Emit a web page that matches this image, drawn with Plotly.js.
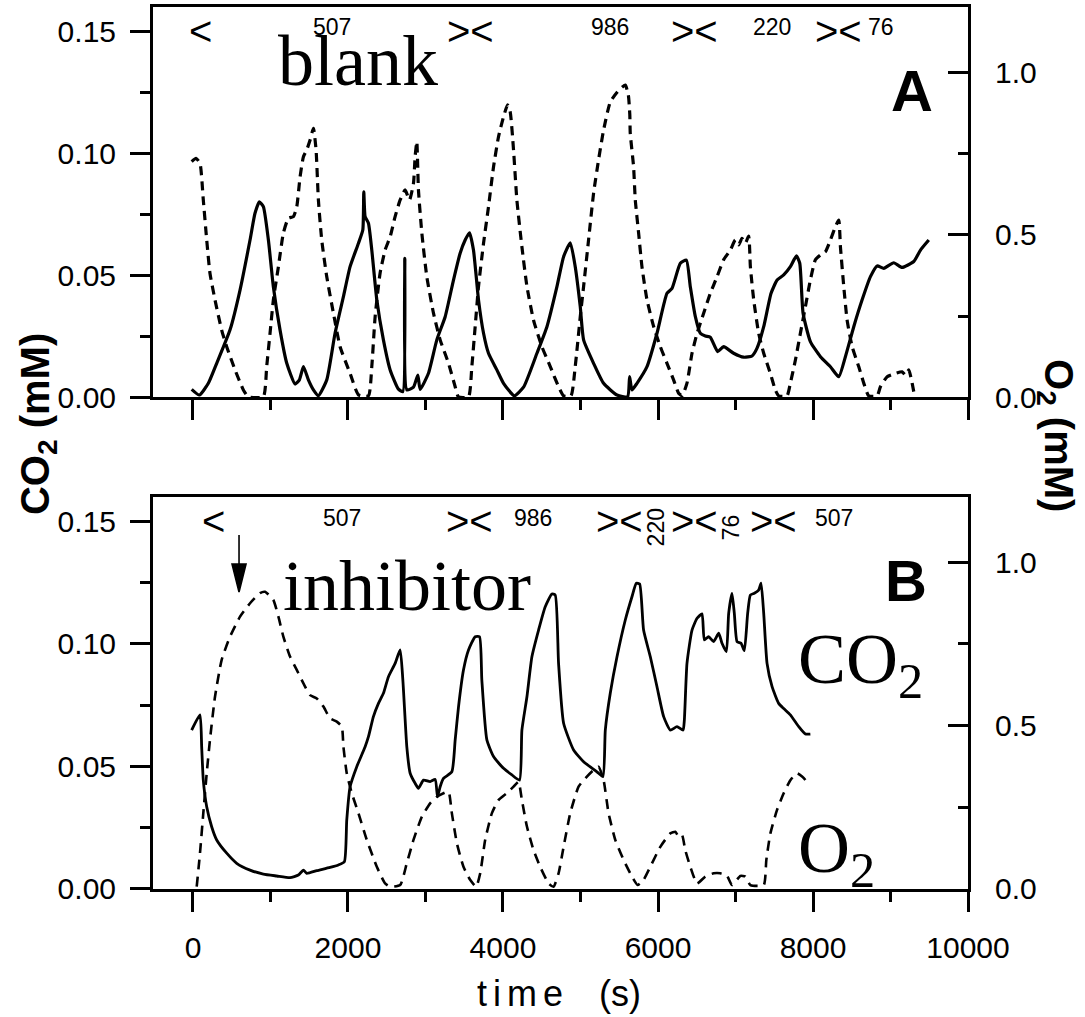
<!DOCTYPE html>
<html>
<head>
<meta charset="utf-8">
<script src="https://cdn.plot.ly/plotly-3.0.1.min.js"></script>
<style>
  html, body { margin: 0; padding: 0; background: #ffffff; }
  #chart { width: 1085px; height: 1017px; }
</style>
</head>
<body>
<div id="chart"></div>
<script>
// ---------- Panel A (blank): CO2 (mM, left axis) ----------
const timeA_CO2 = [
  -17, 82, 198, 306, 478, 607, 736, 800, 856, 908,
  973, 1037, 1123, 1210, 1317, 1373, 1425, 1489, 1554, 1618,
  1726, 1833, 1941, 2027, 2135, 2191, 2204, 2221, 2264, 2307,
  2372, 2457, 2544, 2651, 2708, 2733, 2759, 2845, 2901, 2931,
  3038, 3146, 3254, 3361, 3447, 3512, 3568, 3619, 3684, 3749,
  3813, 3921, 4007, 4145, 4265, 4438, 4567, 4696, 4782, 4868,
  4932, 4997, 5040, 5169, 5298, 5471, 5608, 5634, 5664, 5729,
  5858, 5987, 6116, 6181, 6288, 6366, 6417, 6482, 6546, 6611,
  6675, 6770, 6847, 6976, 7105, 7214, 7278, 7364, 7459, 7537,
  7622, 7708, 7786, 7829, 7872, 7966, 8096, 8225, 8332, 8418,
  8526, 8634, 8741, 8828, 8913, 9042, 9150, 9300, 9387, 9494
];
const co2A = [
  0.0033, 0.0010, 0.0058, 0.0140, 0.0277, 0.0440, 0.0645, 0.0755, 0.0802, 0.0782,
  0.0645, 0.0454, 0.0277, 0.0140, 0.0055, 0.0072, 0.0126, 0.0072, 0.0031, 0.0007,
  0.0072, 0.0263, 0.0413, 0.0536, 0.0632, 0.0686, 0.0843, 0.0741, 0.0714, 0.0604,
  0.0400, 0.0236, 0.0113, 0.0034, 0.0024, 0.0570, 0.0031, 0.0042, 0.0092, 0.0033,
  0.0099, 0.0236, 0.0331, 0.0481, 0.0591, 0.0645, 0.0675, 0.0604, 0.0400, 0.0263,
  0.0181, 0.0113, 0.0058, 0.0007, 0.0042, 0.0181, 0.0290, 0.0454, 0.0577, 0.0634,
  0.0536, 0.0372, 0.0236, 0.0140, 0.0058, 0.0010, 0.0003, 0.0085, 0.0031, 0.0058,
  0.0126, 0.0263, 0.0427, 0.0447, 0.0550, 0.0563, 0.0454, 0.0331, 0.0263, 0.0252,
  0.0247, 0.0188, 0.0208, 0.0181, 0.0165, 0.0170, 0.0202, 0.0290, 0.0427, 0.0481,
  0.0502, 0.0536, 0.0580, 0.0550, 0.0345, 0.0229, 0.0167, 0.0126, 0.0085, 0.0167,
  0.0290, 0.0400, 0.0495, 0.0539, 0.0529, 0.0552, 0.0533, 0.0557, 0.0604, 0.0645
];

// ---------- Panel A (blank): O2 (mM, right axis) ----------
const timeA_O2 = [
  -17, 39, 90, 133, 177, 219, 284, 370, 435, 542,
  650, 714, 908, 951, 994, 1037, 1102, 1166, 1231, 1296,
  1339, 1382, 1425, 1468, 1511, 1554, 1588, 1618, 1661, 1726,
  1812, 1898, 2027, 2135, 2264, 2307, 2350, 2414, 2479, 2544,
  2608, 2673, 2737, 2793, 2845, 2866, 2888, 2909, 2953, 3017,
  3103, 3189, 3297, 3383, 3425, 3555, 3598, 3641, 3684, 3749,
  3813, 3878, 3942, 4007, 4059, 4093, 4136, 4179, 4244, 4309,
  4394, 4502, 4610, 4717, 4782, 4877, 4932, 4997, 5040, 5104,
  5169, 5233, 5298, 5384, 5475, 5539, 5578, 5617, 5636, 5642,
  5685, 5707, 5750, 5793, 5858, 5944, 6030, 6116, 6201, 6266,
  6310, 6374, 6439, 6504, 6589, 6675, 6762, 6847, 6934, 6998,
  7041, 7084, 7127, 7170, 7192, 7235, 7299, 7364, 7450, 7514,
  7557, 7665, 7708, 7773, 7837, 7902, 7966, 8031, 8096, 8160,
  8225, 8289, 8332, 8354, 8397, 8440, 8505, 8590, 8655, 8719,
  8828, 8870, 8957, 9064, 9150, 9193, 9236, 9279, 9300
];
const o2A = [
  0.725, 0.735, 0.720, 0.607, 0.484, 0.382, 0.300, 0.207, 0.156, 0.085,
  0.023, 0.002, 0.002, 0.095, 0.197, 0.300, 0.402, 0.505, 0.551, 0.556,
  0.586, 0.679, 0.740, 0.761, 0.791, 0.827, 0.761, 0.607, 0.484, 0.371,
  0.259, 0.156, 0.074, 0.008, 0.005, 0.095, 0.248, 0.382, 0.453, 0.494,
  0.556, 0.607, 0.638, 0.607, 0.658, 0.740, 0.786, 0.638, 0.505, 0.371,
  0.259, 0.177, 0.105, 0.033, 0.002, 0.002, 0.095, 0.218, 0.341, 0.474,
  0.586, 0.709, 0.801, 0.863, 0.899, 0.878, 0.761, 0.607, 0.463, 0.341,
  0.238, 0.156, 0.095, 0.033, 0.005, 0.005, 0.095, 0.248, 0.341, 0.484,
  0.628, 0.730, 0.822, 0.908, 0.939, 0.954, 0.960, 0.930, 0.870, 0.812,
  0.709, 0.607, 0.505, 0.402, 0.300, 0.218, 0.156, 0.105, 0.054, 0.013,
  0.005, 0.044, 0.136, 0.197, 0.259, 0.320, 0.371, 0.423, 0.453, 0.484,
  0.469, 0.489, 0.474, 0.496, 0.402, 0.300, 0.197, 0.136, 0.074, 0.023,
  0.005, 0.005, 0.044, 0.115, 0.197, 0.279, 0.361, 0.423, 0.438, 0.448,
  0.484, 0.525, 0.545, 0.463, 0.341, 0.238, 0.156, 0.095, 0.044, 0.005,
  0.005, 0.033, 0.064, 0.074, 0.079, 0.069, 0.085, 0.044, 0.018
];

// ---------- Panel B (inhibitor): CO2 (mM, left axis) ----------
const timeB_CO2 = [
  -17, 90, 112, 133, 177, 241, 306, 435, 564, 736,
  908, 1081, 1252, 1360, 1425, 1468, 1597, 1769, 1876, 1953,
  1984, 2027, 2113, 2221, 2264, 2328, 2393, 2457, 2522, 2608,
  2673, 2708, 2759, 2802, 2866, 2909, 2974, 3060, 3125, 3155,
  3189, 3232, 3340, 3383, 3426, 3490, 3555, 3641, 3697, 3727,
  3792, 3878, 4007, 4115, 4213, 4244, 4309, 4373, 4459, 4545,
  4631, 4674, 4717, 4782, 4911, 5040, 5212, 5289, 5320, 5384,
  5471, 5578, 5664, 5720, 5763, 5814, 5901, 5987, 6073, 6159,
  6245, 6323, 6340, 6374, 6439, 6504, 6568, 6598, 6653, 6718,
  6783, 6826, 6882, 6912, 6955, 6985, 7020, 7072, 7114, 7157,
  7192, 7243, 7299, 7330, 7364, 7407, 7472, 7557, 7622, 7708,
  7816, 7902, 7966
];
const co2B = [
  0.0648, 0.0710, 0.0580, 0.0444, 0.0335, 0.0254, 0.0200, 0.0146, 0.0105, 0.0077,
  0.0061, 0.0053, 0.0046, 0.0057, 0.0077, 0.0064, 0.0075, 0.0088, 0.0098, 0.0111,
  0.0281, 0.0417, 0.0499, 0.0580, 0.0621, 0.0703, 0.0757, 0.0798, 0.0866, 0.0920,
  0.0975, 0.0852, 0.0580, 0.0472, 0.0431, 0.0411, 0.0444, 0.0438, 0.0447, 0.0376,
  0.0417, 0.0451, 0.0478, 0.0608, 0.0743, 0.0893, 0.0975, 0.1029, 0.1029, 0.0852,
  0.0608, 0.0540, 0.0492, 0.0465, 0.0444, 0.0648, 0.0784, 0.0947, 0.1056, 0.1151,
  0.1203, 0.1199, 0.0920, 0.0676, 0.0567, 0.0519, 0.0478, 0.0458, 0.0648, 0.0798,
  0.0947, 0.1097, 0.1192, 0.1247, 0.1244, 0.1056, 0.0947, 0.0825, 0.0703, 0.0648,
  0.0662, 0.0648, 0.0689, 0.0920, 0.1056, 0.1104, 0.1122, 0.1016, 0.1029, 0.1009,
  0.1043, 0.1002, 0.0968, 0.1124, 0.1206, 0.1124, 0.1009, 0.1002, 0.0972, 0.1124,
  0.1199, 0.1206, 0.1219, 0.1247, 0.1124, 0.0920, 0.0825, 0.0757, 0.0736, 0.0710,
  0.0662, 0.0632, 0.0632
];

// ---------- Panel B (inhibitor): O2 (mM, right axis) ----------
const timeB_O2 = [
  48, 90, 133, 177, 219, 284, 370, 478, 607, 736,
  865, 930, 1037, 1102, 1166, 1252, 1339, 1425, 1511, 1597,
  1683, 1769, 1855, 1920, 1941, 1984, 2049, 2135, 2243, 2372,
  2479, 2544, 2673, 2759, 2845, 2953, 3060, 3146, 3232, 3297,
  3340, 3405, 3490, 3576, 3654, 3706, 3770, 3857, 3942, 4050,
  4136, 4200, 4244, 4309, 4394, 4480, 4588, 4652, 4717, 4782,
  4868, 4975, 5083, 5169, 5233, 5298, 5362, 5449, 5556, 5664,
  5737, 5814, 5901, 6030, 6159, 6224, 6266, 6310, 6352, 6417,
  6504, 6611, 6718, 6804, 6891, 6955, 7063, 7127, 7192, 7364,
  7398, 7450, 7536, 7622, 7708, 7794, 7859, 7902, 7923
];
const o2B = [
  0.007, 0.109, 0.232, 0.354, 0.456, 0.588, 0.701, 0.772, 0.833, 0.874,
  0.905, 0.909, 0.884, 0.833, 0.772, 0.711, 0.670, 0.629, 0.593, 0.583,
  0.558, 0.522, 0.512, 0.497, 0.435, 0.354, 0.293, 0.232, 0.150, 0.068,
  0.017, 0.007, 0.012, 0.079, 0.150, 0.221, 0.262, 0.282, 0.293, 0.298,
  0.232, 0.140, 0.068, 0.028, 0.007, 0.048, 0.150, 0.232, 0.272, 0.293,
  0.313, 0.328, 0.272, 0.191, 0.119, 0.068, 0.017, 0.007, 0.048, 0.129,
  0.232, 0.313, 0.344, 0.364, 0.374, 0.333, 0.232, 0.150, 0.089, 0.038,
  0.012, 0.028, 0.068, 0.129, 0.170, 0.175, 0.160, 0.165, 0.119, 0.068,
  0.017, 0.038, 0.048, 0.048, 0.040, 0.012, 0.040, 0.038, 0.012, 0.012,
  0.089, 0.170, 0.242, 0.293, 0.333, 0.354, 0.344, 0.333, 0.323
];

// ---------- Gas-switch marks (time of mark, label) ----------
const marksA_time = [103, 1795, 3577, 5384, 6469, 7476, 8328, 8883];
const marksA_text = ['&lt;', '507', '&gt;&lt;', '986', '&gt;&lt;', '220', '&gt;&lt;', '76'];
const marksB_time = [271, 1924, 3564, 4390, 5500, 5978, 6469, 6946, 7489, 8276];
const marksB_text = ['&lt;', '507', '&gt;&lt;', '986', '&gt;&lt;', '220', '&gt;&lt;', '76', '&gt;&lt;', '507'];
const marksB_rotated = [false, false, false, false, false, true, false, true, false, false];

// inhibitor injection time (arrow)
const injectionTime = 594;

// ---------- Styling ----------
const SANS = 'Liberation Sans, Arial, sans-serif';
const SERIF = 'Liberation Serif, Times New Roman, serif';
const BLACK = '#000000';

const traces = [
  { x: timeA_CO2, y: co2A, xaxis: 'x2', yaxis: 'y3', type: 'scatter', mode: 'lines',
    line: { color: BLACK, width: 3.2, shape: 'spline', smoothing: 0.5 }, hoverinfo: 'skip' },
  { x: timeA_O2, y: o2A, xaxis: 'x2', yaxis: 'y4', type: 'scatter', mode: 'lines',
    line: { color: BLACK, width: 3.2, dash: '9px,6px', shape: 'spline', smoothing: 0.5 }, hoverinfo: 'skip' },
  { x: timeB_CO2, y: co2B, xaxis: 'x', yaxis: 'y', type: 'scatter', mode: 'lines',
    line: { color: BLACK, width: 2.8, shape: 'spline', smoothing: 0.5 }, hoverinfo: 'skip' },
  { x: timeB_O2, y: o2B, xaxis: 'x', yaxis: 'y2', type: 'scatter', mode: 'lines',
    line: { color: BLACK, width: 2.6, dash: '10px,7px', shape: 'spline', smoothing: 0.5 }, hoverinfo: 'skip' }
];

const tickFont = { family: SANS, size: 30, color: BLACK };

function xAxis(extra) {
  return Object.assign({
    range: [-516, 10000], tick0: 0, dtick: 2000, tickformat: 'd',
    ticks: 'outside', ticklen: 20, tickwidth: 3, tickcolor: BLACK,
    minor: { dtick: 1000, tick0: 0, ticks: 'outside', ticklen: 10, tickwidth: 3, tickcolor: BLACK, showgrid: false },
    showline: true, linewidth: 3, linecolor: BLACK, mirror: true,
    showgrid: false, zeroline: false, tickfont: tickFont, ticklabelstandoff: 10
  }, extra);
}
function yLeft(extra) {
  return Object.assign({
    range: [0, 0.16], tick0: 0, dtick: 0.05, tickformat: '.2f',
    ticks: 'outside', ticklen: 20, tickwidth: 3, tickcolor: BLACK,
    minor: { dtick: 0.025, tick0: 0, ticks: 'outside', ticklen: 10, tickwidth: 3, tickcolor: BLACK, showgrid: false },
    showline: true, linewidth: 3, linecolor: BLACK,
    showgrid: false, zeroline: false, tickfont: tickFont, ticklabelstandoff: 8
  }, extra);
}
function yRight(extra) {
  return Object.assign({
    range: [0, 1.2], tick0: 0, dtick: 0.5, tickformat: '.1f', side: 'right',
    ticks: 'inside', ticklen: 20, tickwidth: 3, tickcolor: BLACK,
    minor: { dtick: 0.25, tick0: 0, ticks: 'inside', ticklen: 10, tickwidth: 3, tickcolor: BLACK, showgrid: false },
    showline: true, linewidth: 3, linecolor: BLACK,
    showgrid: false, zeroline: false, tickfont: tickFont, ticklabelstandoff: 18
  }, extra);
}

const annotations = [];
function mark(xref, yref, t, text, rotated) {
  const isSym = text.indexOf('&') === 0;
  let yv;
  if (yref === 'y3') yv = isSym ? 0.1500 : 0.1520;
  else yv = rotated ? 0.1476 : (isSym ? 0.1500 : 0.1513);
  annotations.push({
    xref: xref, yref: yref, x: t, y: yv, text: text, showarrow: false,
    xanchor: 'center', yanchor: 'middle', textangle: rotated ? -90 : 0,
    font: { family: SANS, size: isSym ? 40 : 23, color: BLACK }
  });
}
marksA_time.forEach((t, i) => mark('x2', 'y3', t, marksA_text[i], false));
marksB_time.forEach((t, i) => mark('x', 'y', t, marksB_text[i], marksB_rotated[i]));

annotations.push(
  { xref: 'x2', yref: 'y3', x: 2130, y: 0.1380, text: 'blank', showarrow: false,
    xanchor: 'center', yanchor: 'middle', font: { family: SERIF, size: 72, color: BLACK } },
  { xref: 'x2', yref: 'y3', x: 9283, y: 0.1256, text: 'A', showarrow: false,
    xanchor: 'center', yanchor: 'middle', font: { family: SANS, size: 58, color: BLACK, weight: 'bold' } },
  { xref: 'x', yref: 'y', x: 2757, y: 0.1237, text: 'inhibitor', showarrow: false,
    xanchor: 'center', yanchor: 'middle', font: { family: SERIF, size: 72, color: BLACK } },
  { xref: 'x', yref: 'y', x: 9206, y: 0.1260, text: 'B', showarrow: false,
    xanchor: 'center', yanchor: 'middle', font: { family: SANS, size: 58, color: BLACK, weight: 'bold' } },
  { xref: 'x', yref: 'y', x: 7786, y: 0.0918, text: 'CO<sub>2</sub>', showarrow: false,
    xanchor: 'left', yanchor: 'middle', font: { family: SERIF, size: 72, color: BLACK } },
  { xref: 'x', yref: 'y', x: 7786, y: 0.0147, text: 'O<sub>2</sub>', showarrow: false,
    xanchor: 'left', yanchor: 'middle', font: { family: SERIF, size: 72, color: BLACK } },
  // axis titles
  { xref: 'paper', yref: 'paper', x: -0.1411, y: 0.5272, text: 'CO<sub>2</sub> (mM)', showarrow: false,
    textangle: -90, xanchor: 'center', yanchor: 'middle',
    font: { family: SANS, size: 40, color: BLACK, weight: 'bold' } },
  { xref: 'paper', yref: 'paper', x: 1.1080, y: 0.5147, text: 'O<sub>2</sub> (mM)', showarrow: false,
    textangle: 90, xanchor: 'center', yanchor: 'middle',
    font: { family: SANS, size: 40, color: BLACK, weight: 'bold' } },
  { xref: 'paper', yref: 'paper', x: 0.498, y: -0.119,
    text: 't\u2006i\u2006m\u2006e\u2002\u2002(s)', showarrow: false,
    xanchor: 'center', yanchor: 'middle', font: { family: SANS, size: 36, color: BLACK } }
);

const shapes = [
  { type: 'path', xref: 'x', yref: 'y', xsizemode: 'pixel', ysizemode: 'pixel',
    xanchor: injectionTime, yanchor: 0.1211,
    path: 'M0,0 L-7,28 L7,28 Z M0,28 L0,57',
    line: { color: BLACK, width: 1.6 }, fillcolor: BLACK }
];

const layout = {
  width: 1085, height: 1017,
  margin: { l: 153, r: 117, t: 7, b: 128, pad: 0 },
  paper_bgcolor: '#ffffff', plot_bgcolor: '#ffffff',
  showlegend: false, hovermode: false,
  xaxis: xAxis({ anchor: 'y', domain: [0, 1] }),
  xaxis2: xAxis({ anchor: 'y3', domain: [0, 1], matches: 'x', showticklabels: false }),
  yaxis: yLeft({ anchor: 'x', domain: [0, 0.4448] }),
  yaxis2: yRight({ anchor: 'x', overlaying: 'y' }),
  yaxis3: yLeft({ anchor: 'x2', domain: [0.5573, 1] }),
  yaxis4: yRight({ anchor: 'x2', overlaying: 'y3' }),
  annotations: annotations,
  shapes: shapes
};

Plotly.newPlot('chart', traces, layout, { staticPlot: true, displayModeBar: false });
</script>
</body>
</html>
